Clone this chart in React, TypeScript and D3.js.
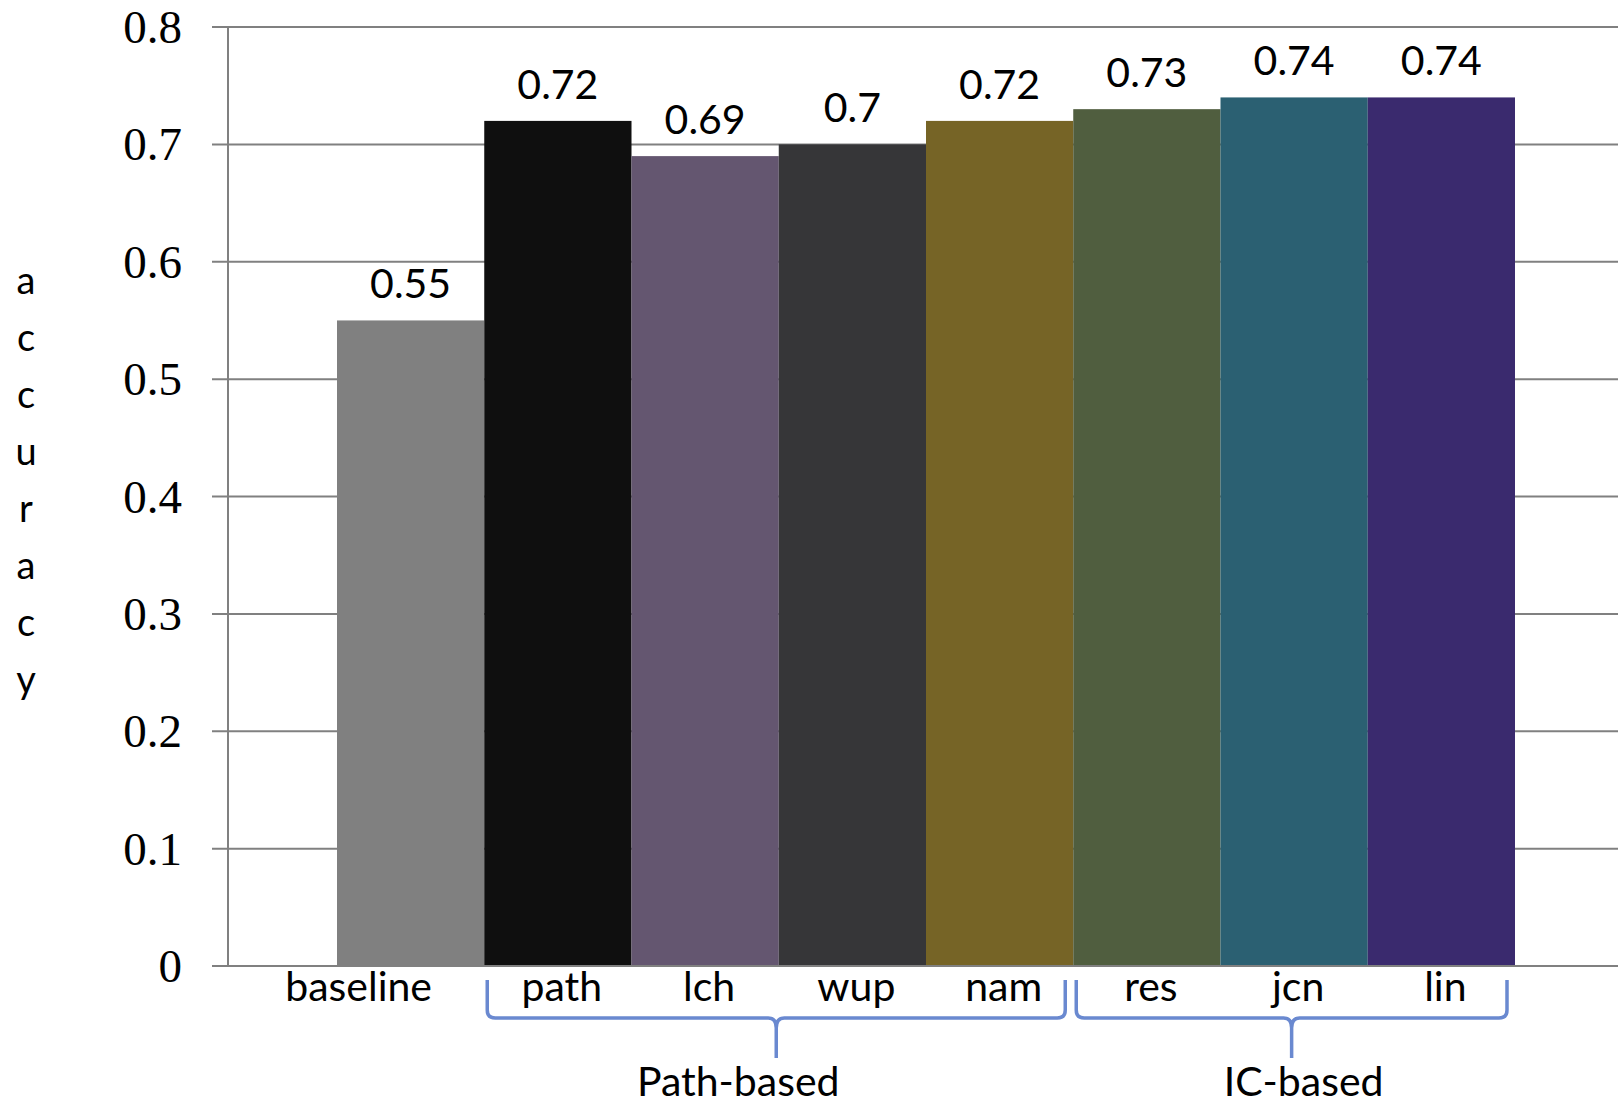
import React from "react";
import * as d3 from "d3";

const categories = ["baseline", "path", "lch", "wup", "nam", "res", "jcn", "lin"];
const values = [0.55, 0.72, 0.69, 0.7, 0.72, 0.73, 0.74, 0.74];
const barColors = ["#808080", "#0f0f0f", "#645670", "#363638", "#766426", "#505e3f", "#2b6072", "#3a2a6e"];
const yTicks = [0, 0.1, 0.2, 0.3, 0.4, 0.5, 0.6, 0.7, 0.8];
const groups = [
  { label: "Path-based", from: "path", to: "nam" },
  { label: "IC-based", from: "res", to: "lin" },
];
const yTitle = "accuracy";

const W = 1618;
const H = 1104;
const axisX = 228;
const gridX0 = 212;
const plotTop = 27;
const plotBottom = 966;

export default function App() {
  const x = d3.scaleBand<string>().domain(categories).range([337, 1515]).padding(0);
  const y = d3.scaleLinear().domain([0, 0.8]).range([plotBottom, plotTop]);
  const bw = x.bandwidth();
  const sans = "Lato, 'Open Sans', sans-serif";
  const serif = "'Liberation Serif', 'DejaVu Serif', serif";
  const braceColor = "#6a89d0";

  const bracePath = (x0: number, x1: number) => {
    const top = 980;
    const hy = 1018;
    const tip = 1058;
    const r = 8;
    const cx = (x0 + x1) / 2;
    return [
      `M${x0},${top}`,
      `L${x0},${hy - r}`,
      `Q${x0},${hy} ${x0 + r},${hy}`,
      `L${cx - 8},${hy}`,
      `Q${cx},${hy} ${cx},${hy + 10}`,
      `L${cx},${tip}`,
      `M${cx},${hy + 10}`,
      `Q${cx},${hy} ${cx + 8},${hy}`,
      `L${x1 - r},${hy}`,
      `Q${x1},${hy} ${x1},${hy - r}`,
      `L${x1},${top}`,
    ].join(" ");
  };

  return (
    <svg width={W} height={H} style={{ position: "absolute", left: 0, top: 0, background: "#fff" }}>
      {/* gridlines */}
      {yTicks.map((t) => (
        <line key={"g" + t} x1={gridX0} x2={W} y1={y(t)} y2={y(t)} stroke="#808080" strokeWidth={2} />
      ))}
      {/* vertical axis */}
      <line x1={axisX} x2={axisX} y1={plotTop} y2={plotBottom} stroke="#808080" strokeWidth={2} />
      {/* tick labels */}
      {yTicks.map((t) => (
        <text
          key={"t" + t}
          x={182}
          y={y(t)}
          textAnchor="end"
          dominantBaseline="central"
          fontFamily={serif}
          fontSize={47}
          fill="#000"
        >
          {t === 0 ? "0" : d3.format(".1f")(t)}
        </text>
      ))}
      {/* bars */}
      {categories.map((c, i) => (
        <rect key={c} x={x(c)} y={y(values[i])} width={bw} height={plotBottom - y(values[i])} fill={barColors[i]} />
      ))}
      {/* x axis line over bars */}
      <line x1={gridX0} x2={W} y1={plotBottom} y2={plotBottom} stroke="#808080" strokeWidth={2} />
      {/* data labels */}
      {categories.map((c, i) => (
        <text
          key={"v" + c}
          x={(x(c) as number) + bw / 2}
          y={y(values[i]) - 22}
          textAnchor="middle"
          fontFamily={sans}
          fontSize={41}
          fill="#000"
        >
          {String(values[i])}
        </text>
      ))}
      {/* category labels */}
      {categories.map((c, i) => (
        <text
          key={"c" + c}
          x={(x(c) as number) + bw / 2 + (i === 0 ? -52 : 4)}
          y={1001}
          textAnchor="middle"
          fontFamily={sans}
          fontSize={41}
          fill="#000"
        >
          {c}
        </text>
      ))}
      {/* braces */}
      {groups.map((g) => {
        const x0 = (x(g.from) as number) + 3;
        const x1 = (x(g.to) as number) + bw - 8;
        return (
          <g key={g.label}>
            <path d={bracePath(x0, x1)} fill="none" stroke={braceColor} strokeWidth={3.5} />
            <text
              x={(x0 + x1) / 2 + (g.label === "Path-based" ? -38 : 12)}
              y={1096}
              textAnchor="middle"
              fontFamily={sans}
              fontSize={41}
              fill="#000"
            >
              {g.label}
            </text>
          </g>
        );
      })}
      {/* y title, stacked letters */}
      {yTitle.split("").map((ch, i) => (
        <text
          key={"y" + i}
          x={26}
          y={279 + i * 57}
          textAnchor="middle"
          dominantBaseline="central"
          fontFamily={sans}
          fontSize={38}
          fill="#000"
        >
          {ch}
        </text>
      ))}
    </svg>
  );
}
